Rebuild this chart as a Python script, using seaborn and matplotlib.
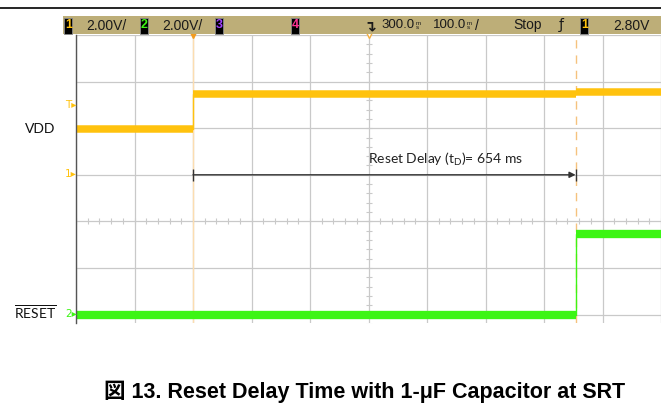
import numpy as np
import pandas as pd
import matplotlib.pyplot as plt
import seaborn as sns
from matplotlib.patches import Rectangle
from matplotlib.lines import Line2D

# Time base: 100 ms/div, 300 ms delay -> screen spans -200..800 ms
t_left, t_right = -200, 800
t_trigger = 0
t_delay = 654
t_center = 300

# Channel settings (2 V/div), ground level in divisions from centre
volts_per_div = 2.0
ch1_ground = 1.0
ch2_ground = -2.0

# VDD trace (ch1), step levels in volts
vdd_t = [-200, 0, 654, 800]
vdd_v = [1.98, 3.45, 3.55, 3.55]

# RESET trace (ch2), step levels in volts
rst_t = [-200, 654, 800]
rst_v = [0.0, 3.48, 3.48]

# status bar texts
bar_items = ["2.00V/", "2.00V/", "Stop", "2.80V"]
bar_times = ["300.0", "100.0"]

W, H = 661, 418


def px(x, y):
    return x / W, 1 - y / H


sns.set_style("white")
plt.rcParams["font.family"] = ["Lato", "DejaVu Sans"]
plt.rcParams["mathtext.fontset"] = "custom"
plt.rcParams["mathtext.rm"] = "Lato"
plt.rcParams["mathtext.it"] = "Lato:italic"

fig = plt.figure(figsize=(W / 100, H / 100), dpi=100)
ax = fig.add_axes([76 / W, 1 - 323 / H, (W - 76) / W, (323 - 35) / H])

yellow = "#FFC20E"
green = "#3CF514"

vdd = pd.DataFrame({"t": vdd_t, "y": ch1_ground + np.array(vdd_v) / volts_per_div})
rst = pd.DataFrame({"t": rst_t, "y": ch2_ground + np.array(rst_v) / volts_per_div})

# grid
ax.set_xlim(t_left, t_right)
ax.set_ylim(-2.18, 4)
ax.set_xticks(np.arange(t_left, t_right + 1, 100))
ax.set_yticks(np.arange(-2, 4.1, 1))
ax.grid(True, color="#c9c9c9", lw=0.9)
ax.tick_params(length=0, labelbottom=False, labelleft=False)
for s in ["top", "right", "bottom"]:
    ax.spines[s].set_visible(False)
ax.spines["left"].set_color("#555555")
ax.spines["left"].set_linewidth(1.0)

# small ticks on centre lines
ax.plot(np.arange(t_left, t_right + 1, 20), np.zeros(51), ls="", marker="|",
        ms=4, color="#c9c9c9", mew=0.8)
yt = np.arange(-2.2, 4.0, 0.2)
ax.plot(np.full(len(yt), t_center), yt, ls="", marker="_", ms=4,
        color="#c9c9c9", mew=0.8)

# trigger / cursor lines
ax.axvline(t_trigger, color="#FCDDB0", lw=1)
ax.axvline(t_delay, color="#F5C27E", lw=1, ls=(0, (6, 5)))

# traces: thin step edges, thick noisy bands for levels
sns.lineplot(data=vdd, x="t", y="y", drawstyle="steps-post", color=yellow,
             lw=1, ax=ax)
sns.lineplot(data=rst, x="t", y="y", drawstyle="steps-post", color=green,
             lw=1, ax=ax)
ax.hlines(vdd["y"][:-1], vdd["t"][:-1], vdd["t"][1:], color=yellow, lw=5.4,
          capstyle="butt")
ax.hlines(rst["y"][:-1], rst["t"][:-1], rst["t"][1:], color=green, lw=6.0,
          capstyle="butt")
ax.set_xlabel("")
ax.set_ylabel("")

# delay arrow
ax.annotate("", xy=(t_delay, ch1_ground), xytext=(t_trigger, ch1_ground),
            arrowprops=dict(arrowstyle="-|>", color="#333333", lw=1,
                            shrinkA=0, shrinkB=0, mutation_scale=9))
ax.plot([t_trigger, t_delay], [ch1_ground, ch1_ground], ls="", marker="|",
        ms=8, mew=1, color="#333333")
ax.text(t_center, 1.32, r"Reset Delay ($\mathregular{t_D}$)= 654 ms",
        fontsize=10, va="center", ha="left", color="#222222")

# top markers
ax.plot([t_trigger], [4], marker="v", ms=5, color="#F39C1E", clip_on=False)
ax.plot([t_center], [4], marker="v", ms=5, mfc="white", mec="#F5B041",
        clip_on=False)

# top rule and status bar
fig.add_artist(Line2D([0, 1], [1 - 8 / H] * 2, color="black", lw=1.2))
fig.add_artist(Rectangle(px(63, 34), (W - 63) / W, 18 / H, color="#BDAE78",
                         lw=0))

narrow = ["Liberation Sans Narrow", "Liberation Sans"]


def chbox(x, label, c):
    fig.add_artist(Rectangle(px(x - 4, 33.5), 8 / W, 16 / H, fc="black",
                             ec="#8a8a8a", lw=0.6))
    fig.text(*px(x + 0.5, 25.5), label, color=c, fontsize=9,
             fontweight="bold", family=narrow, ha="center", va="center")


chbox(68, "1", yellow)
chbox(144, "2", green)
chbox(219, "3", "#A040FF")
chbox(295, "4", "#FF3090")
chbox(584, "1", yellow)

bar_x = [86, 162, 513, 613]
for x, s in zip(bar_x, bar_items):
    fig.text(*px(x, 25.5), s, fontsize=10, family=narrow, ha="left",
             va="center", color="#1a1a1a")
for x, s in zip([415, 466], bar_times):
    fig.text(*px(x, 25.5), s, fontsize=9.5, family=narrow, ha="right",
             va="center", color="#1a1a1a")
    fig.text(*px(x + 1, 25.5), "m\ns", fontsize=4.5, family=narrow,
             ha="left", va="center", linespacing=0.8, color="#1a1a1a")
fig.text(*px(475, 25.5), "/", fontsize=10, family=narrow, ha="left",
         va="center", color="#1a1a1a")
fig.text(*px(370, 26), "\u21b4", fontsize=11, fontweight="bold",
         family="DejaVu Sans", ha="center", va="center", color="#1a1a1a")
fig.text(*px(561, 25.5), "\u0192", fontsize=10, family="DejaVu Sans",
         ha="center", va="center", color="#1a1a1a")

# channel markers on the left
fig.text(*px(71, 105), "T\u25b8", fontsize=7.5, family="DejaVu Sans",
         color=yellow, ha="center", va="center")
fig.text(*px(71, 174), "1\u25b8", fontsize=7.5, family="DejaVu Sans",
         color=yellow, ha="center", va="center")
fig.text(*px(71, 314), "2\u25b8", fontsize=7.5, family="DejaVu Sans",
         color=green, ha="center", va="center")

# signal names
fig.text(*px(40, 129), "VDD", fontsize=10, ha="center", va="center",
         color="#111111")
fig.text(*px(35, 313), r"$\overline{\mathregular{RESET}}$", fontsize=10,
         ha="center", va="center", color="#111111")

# caption
fig.text(*px(365, 392), "\u56f3 13. Reset Delay Time with 1-\u03bcF Capacitor at SRT",
         fontsize=15.5, fontweight="bold",
         family=["Liberation Sans", "Noto Sans CJK JP"], ha="center",
         va="center", color="black")

fig.savefig("out.png", dpi=100)
